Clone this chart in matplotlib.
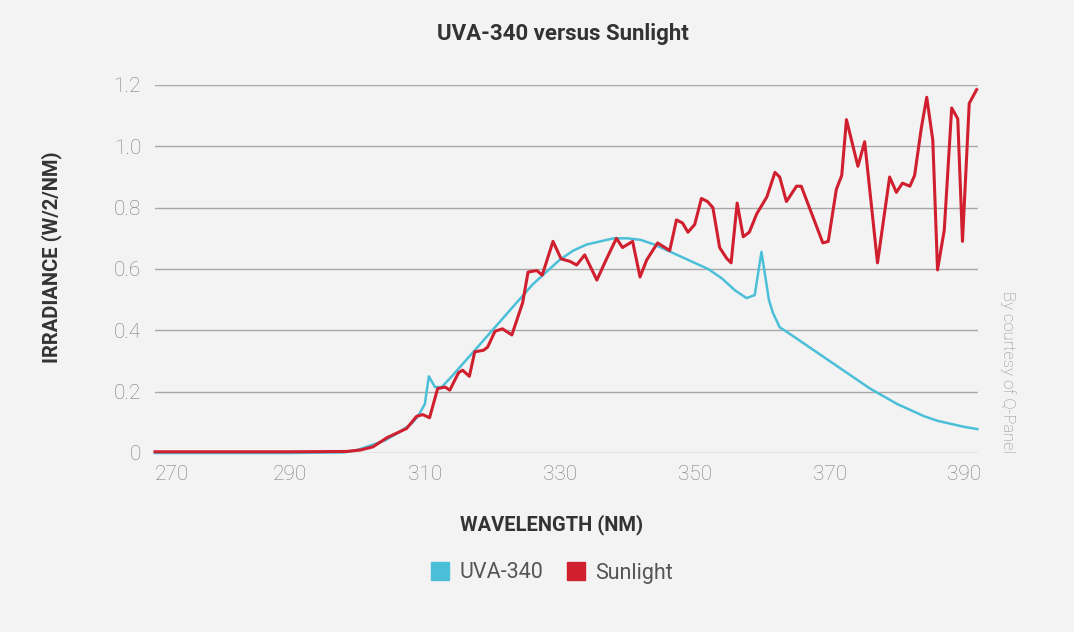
import matplotlib
matplotlib.use("Agg")
import matplotlib.pyplot as plt
from matplotlib.lines import Line2D

# ---- data ----
uva_wl = [270, 280, 290, 298, 300, 302, 304, 306, 308, 309, 310, 310.6, 311.5, 312.5,
          314, 316, 318, 320, 322, 324, 326, 328, 330, 332, 334, 336, 338, 340,
          342, 344, 346, 348, 350, 352, 354, 356, 357.7, 358.9, 359.9, 361, 361.6,
          362.6, 364, 366, 368, 370, 372, 374, 376, 378, 380, 382, 384, 386, 388,
          390, 391.9]
uva_val = [0.0, 0.0, 0.0, 0.002, 0.01, 0.025, 0.04, 0.065, 0.095, 0.12, 0.16, 0.25, 0.215, 0.215,
           0.25, 0.30, 0.35, 0.40, 0.45, 0.50, 0.55, 0.59, 0.63, 0.66, 0.68, 0.69, 0.70, 0.70,
           0.695, 0.68, 0.66, 0.64, 0.62, 0.60, 0.57, 0.53, 0.505, 0.515, 0.656, 0.50, 0.457,
           0.41, 0.39, 0.36, 0.33, 0.30, 0.27, 0.24, 0.21, 0.185, 0.16, 0.14, 0.12, 0.105, 0.095,
           0.085, 0.078]

sun_wl = [270, 280, 290, 298.4, 300.5, 302.3, 304.4, 307.3, 308.8, 309.7, 310.7, 311.9, 313,
          313.7, 315, 315.6, 316.6, 317.4, 318.7, 319.3, 320.4, 321.5, 322.9, 324.5, 325.3,
          326.6, 327.4, 329, 330.2, 331.5, 332.5, 333.7, 335.5, 337, 338.4, 339.3, 340.8,
          341.9, 342.9, 344.5, 346.3, 347.3, 348.2, 349, 350, 351, 351.9, 352.7, 353.7,
          354.7, 355.4, 356.3, 357.2, 358.1, 359.2, 360.7, 361.9, 362.6, 363.6, 365.1,
          365.8, 369, 369.8, 371, 371.8, 372.5, 374.2, 375.2, 377.1, 378.9, 379.9, 380.8,
          381.9, 382.6, 383.6, 384.4, 385.3, 386, 387, 388.1, 389, 389.7, 390.7, 391.8]
sun_val = [0.004, 0.004, 0.004, 0.005, 0.01, 0.02, 0.05, 0.08, 0.12, 0.125, 0.115, 0.21, 0.215,
           0.205, 0.262, 0.27, 0.25, 0.33, 0.335, 0.345, 0.397, 0.405, 0.385, 0.49, 0.59,
           0.595, 0.58, 0.69, 0.633, 0.625, 0.613, 0.646, 0.564, 0.636, 0.70, 0.67, 0.69,
           0.574, 0.63, 0.685, 0.66, 0.76, 0.75, 0.72, 0.745, 0.83, 0.82, 0.80, 0.67,
           0.636, 0.62, 0.815, 0.705, 0.72, 0.78, 0.835, 0.915, 0.90, 0.82, 0.87,
           0.87, 0.685, 0.69, 0.86, 0.905, 1.087, 0.935, 1.015, 0.62, 0.90, 0.85, 0.88,
           0.87, 0.905, 1.06, 1.16, 1.02, 0.597, 0.727, 1.125, 1.09, 0.69, 1.14, 1.185]

x_ticks = [270, 290, 310, 330, 350, 370, 390]
y_ticks = [0, 0.2, 0.4, 0.6, 0.8, 1.0, 1.2]
y_tick_labels = ["0", "0.2", "0.4", "0.6", "0.8", "1.0", "1.2"]

title = "UVA-340 versus Sunlight"
x_label = "WAVELENGTH (NM)"
y_label = "IRRADIANCE (W/2/NM)"
series_names = ["UVA-340", "Sunlight"]
credit = "By courtesy of Q-Panel"

# ---- style ----
plt.rcParams['font.family'] = ['Roboto', 'DejaVu Sans']
BLUE = '#4cbfd8'
RED = '#d01f2e'
BG = '#f3f3f3'

fig = plt.figure(figsize=(10.74, 6.32), dpi=100, facecolor=BG)
ax = fig.add_axes([155/1074, 1 - 453/632, (978-155)/1074, (453-85)/632])
ax.set_facecolor(BG)

ax.plot(uva_wl, uva_val, color=BLUE, lw=1.8, clip_on=False, zorder=3)
ax.plot(sun_wl, sun_val, color=RED, lw=2.2, clip_on=False, zorder=4)

ax.set_xlim(270, 392)
ax.set_ylim(0, 1.2)
ax.set_xticks(x_ticks)
ax.set_xticklabels([str(t) for t in x_ticks], fontweight='light')
ax.set_yticks(y_ticks)
ax.set_yticklabels(y_tick_labels, fontweight='light')
ax.tick_params(axis='both', length=0, colors='#7c7c7c', labelsize=15)
ax.tick_params(axis='x', pad=9)
ax.tick_params(axis='y', pad=10)
ax.get_xticklabels()[0].set_horizontalalignment('left')

for s in ax.spines.values():
    s.set_visible(False)
ax.grid(axis='y', color='#a8a8a8', lw=1.0)
ax.set_axisbelow(True)

fig.text(563/1074, 1 - 34/632, title, ha='center', va='center',
         fontsize=16, fontweight='bold', color='#333333')
fig.text(552/1074, 1 - 525/632, x_label, ha='center', va='center',
         fontsize=14.5, fontweight='bold', color='#333333')
fig.text(52/1074, 1 - 257/632, y_label, ha='center', va='center', rotation=90,
         fontsize=14.5, fontweight='bold', color='#333333')
fig.text(1008/1074, 1 - 372/632, credit, ha='center', va='center', rotation=-90,
         fontsize=12, fontweight='light', color='#8e8e8e')

handles = [Line2D([], [], marker='s', ls='none', color=BLUE, markersize=13),
           Line2D([], [], marker='s', ls='none', color=RED, markersize=13)]
leg = fig.legend(handles, series_names, loc='center', bbox_to_anchor=(551/1074, 1 - 573/632),
                 ncol=2, frameon=False, fontsize=15.5, handletextpad=0.4, columnspacing=1.0,
                 handlelength=1.0)
for t in leg.get_texts():
    t.set_color('#555555')

fig.savefig('out.png', dpi=100, facecolor=BG)
